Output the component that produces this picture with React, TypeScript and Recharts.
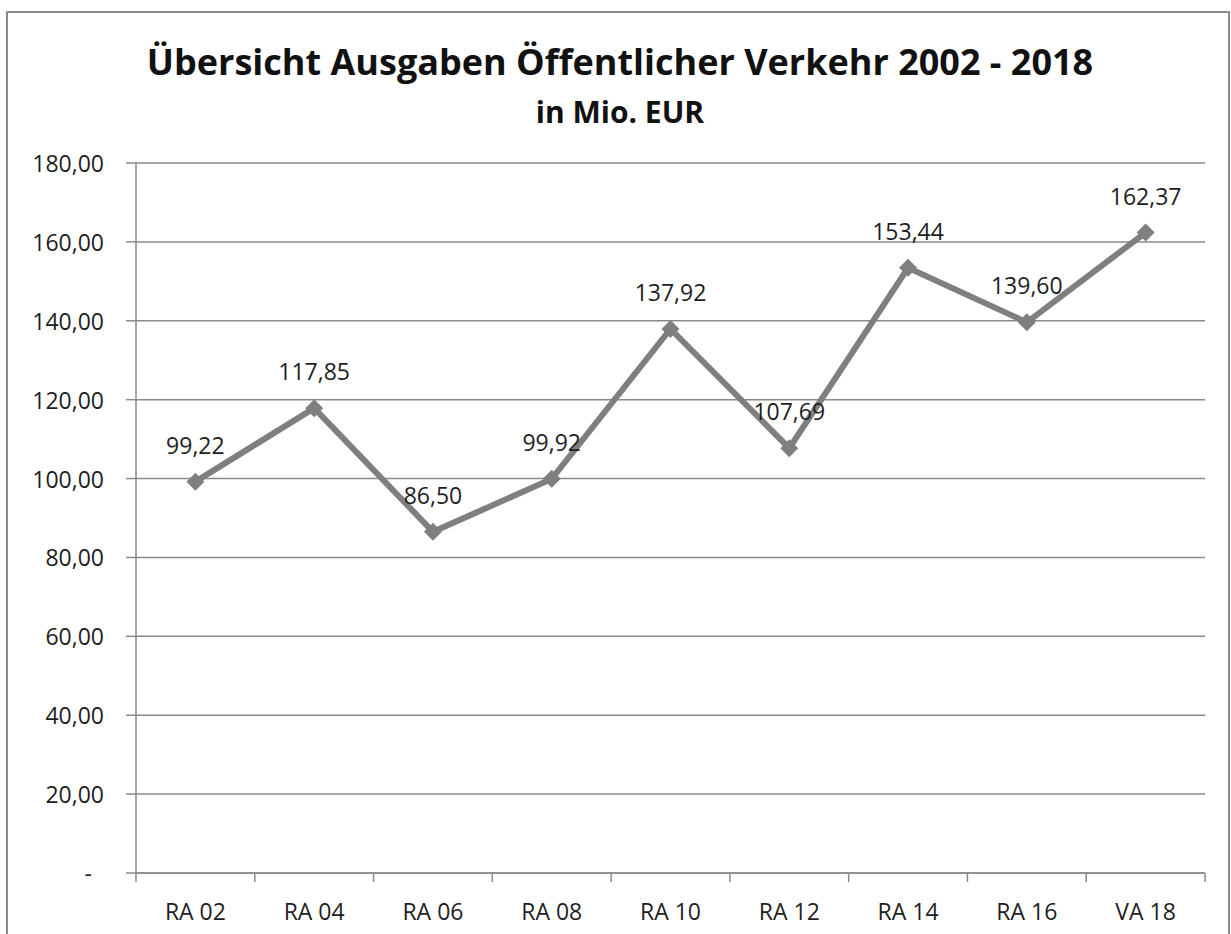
import { LineChart, Line, XAxis, YAxis, CartesianGrid, LabelList } from 'recharts'

const CATEGORIES = ['RA 02', 'RA 04', 'RA 06', 'RA 08', 'RA 10', 'RA 12', 'RA 14', 'RA 16', 'VA 18']
const EXPENSES = [99.22, 117.85, 86.5, 99.92, 137.92, 107.69, 153.44, 139.6, 162.37]
const Y_TICKS = [0, 20, 40, 60, 80, 100, 120, 140, 160, 180]

const TITLE = 'Übersicht  Ausgaben Öffentlicher Verkehr 2002 - 2018'
const SUBTITLE = 'in Mio. EUR'

const FONT = '"Open Sans", sans-serif'
const GRID = '#8a8a8a'
const LINE = '#7f7f7f'
const TEXT = '#1e1e1e'
const LABEL_SIZE = 23

const chartData = CATEGORIES.map((label, i) => ({ label, value: EXPENSES[i] }))

const formatValue = (v: number) => v.toFixed(2).replace('.', ',')

function YTick(props: any) {
  const { x, y, payload } = props
  const zero = payload.value === 0
  return (
    <text
      x={zero ? x - 12 : x}
      y={y}
      textAnchor="end"
      dominantBaseline="central"
      fontSize={LABEL_SIZE}
      fontFamily={FONT}
      fill={TEXT}
    >
      {zero ? '-' : formatValue(payload.value)}
    </text>
  )
}

function XTick(props: any) {
  const { x, y, payload, index, visibleTicksCount, width } = props
  const half = payload.offset || width / visibleTicksCount / 2
  const last = index === visibleTicksCount - 1
  return (
    <g>
      <line x1={x - half} x2={x - half} y1={y} y2={y + 9} stroke={GRID} strokeWidth={1.5} />
      {last && <line x1={x + half} x2={x + half} y1={y} y2={y + 9} stroke={GRID} strokeWidth={1.5} />}
      <text
        x={x}
        y={y + 38}
        textAnchor="middle"
        dominantBaseline="central"
        fontSize={LABEL_SIZE}
        fontFamily={FONT}
        fill={TEXT}
      >
        {payload.value}
      </text>
    </g>
  )
}

function Diamond(props: any) {
  const { cx, cy } = props
  if (cx == null || cy == null) return null
  const r = 9
  return (
    <polygon
      points={`${cx},${cy - r} ${cx + r},${cy} ${cx},${cy + r} ${cx - r},${cy}`}
      fill={LINE}
    />
  )
}

function ValueLabel(props: any) {
  const { x, y, value } = props
  return (
    <text
      x={x}
      y={y - 37}
      textAnchor="middle"
      dominantBaseline="central"
      fontSize={LABEL_SIZE}
      fontFamily={FONT}
      fill={TEXT}
    >
      {formatValue(value)}
    </text>
  )
}

export default function App() {
  return (
    <div
      style={{
        position: 'absolute',
        left: 0,
        top: 0,
        width: 1231,
        height: 934,
        overflow: 'hidden',
        background: '#fff',
      }}
    >
      <div
        style={{
          position: 'absolute',
          left: 6,
          top: 11,
          width: 1220,
          height: 1000,
          border: '2px solid #8c8c8c',
        }}
      />
      <div
        style={{
          position: 'absolute',
          left: 0,
          top: 37,
          width: 1240,
          textAlign: 'center',
          fontFamily: FONT,
          fontWeight: 700,
          fontSize: 36,
          lineHeight: '50px',
          color: '#111',
        }}
      >
        {TITLE}
      </div>
      <div
        style={{
          position: 'absolute',
          left: 0,
          top: 91,
          width: 1240,
          textAlign: 'center',
          fontFamily: FONT,
          fontWeight: 700,
          fontSize: 30,
          lineHeight: '42px',
          color: '#111',
        }}
      >
        {SUBTITLE}
      </div>
      <div style={{ position: 'absolute', left: 0, top: 0 }}>
        <LineChart
          width={1231}
          height={934}
          data={chartData}
          margin={{ top: 163, right: 26, bottom: 0, left: 0 }}
        >
          <CartesianGrid vertical={false} stroke={GRID} strokeWidth={1.5} />
          <XAxis
            dataKey="label"
            scale="band"
            height={61}
            stroke={GRID}
            strokeWidth={1.5}
            tickLine={false}
            tickSize={0}
            tickMargin={0}
            interval={0}
            tick={<XTick />}
          />
          <YAxis
            width={136}
            domain={[0, 180]}
            ticks={Y_TICKS}
            interval={0}
            stroke={GRID}
            strokeWidth={1.5}
            tickSize={10}
            tickMargin={22}
            tick={<YTick />}
          />
          <Line
            dataKey="value"
            stroke={LINE}
            strokeWidth={6}
            dot={<Diamond />}
            activeDot={false}
            isAnimationActive={false}
          >
            <LabelList dataKey="value" content={<ValueLabel />} />
          </Line>
        </LineChart>
      </div>
    </div>
  )
}
